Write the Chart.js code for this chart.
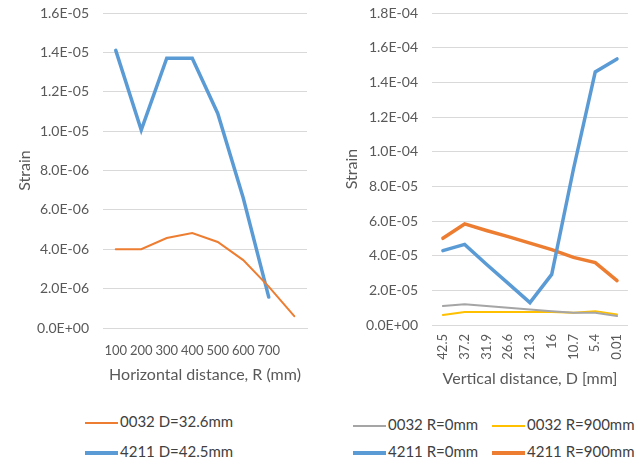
<!DOCTYPE html>
<html>
<head>
<meta charset="utf-8">
<script src="https://cdn.jsdelivr.net/npm/chart.js@4.4.0/dist/chart.umd.min.js"></script>
<style>
  body { margin: 0; background: #fff; font-family: Lato, sans-serif; }
  #wrap { position: relative; width: 642px; height: 463px; overflow: hidden; }
  .box { position: absolute; top: 0; }
  .legend { position: absolute; font-family: Lato, sans-serif; font-size: 15px; color: #404040; }
  .item { position: absolute; white-space: nowrap; line-height: 18px; }
  .item span { display: inline-block; width: 33px; vertical-align: middle; margin-right: 2px; }
</style>
</head>
<body>
<div id="wrap">
  <div class="box" style="left:0;width:320px;height:395px"><canvas id="leftChart" width="320" height="395"></canvas></div>
  <div class="box" style="left:320px;width:322px;height:395px"><canvas id="rightChart" width="322" height="395"></canvas></div>
  <div class="legend" id="leftLegend"></div>
  <div class="legend" id="rightLegend"></div>
</div>
<script>
// left chart: strain vs horizontal distance
const horizLabels = ['100', '200', '300', '400', '500', '600', '700', ''];
const s0032_D326 = [4.0e-6, 4.0e-6, 4.57e-6, 4.82e-6, 4.37e-6, 3.45e-6, 2.1e-6, 0.6e-6];
const s4211_D425 = [14.1e-6, 10.05e-6, 13.7e-6, 13.7e-6, 10.9e-6, 6.6e-6, 1.57e-6, null];

// right chart: strain vs vertical distance
const vertLabels = ['42.5', '37.2', '31.9', '26.6', '21.3', '16', '10.7', '5.4', '0.01'];
const s0032_R0 = [1.1e-5, 1.2e-5, 1.1e-5, 1.0e-5, 0.9e-5, 0.8e-5, 0.7e-5, 0.7e-5, 0.52e-5];
const s0032_R900 = [0.58e-5, 0.75e-5, 0.75e-5, 0.75e-5, 0.75e-5, 0.75e-5, 0.7e-5, 0.8e-5, 0.6e-5];
const s4211_R0 = [4.29e-5, 4.65e-5, 3.5e-5, 2.4e-5, 1.29e-5, 2.92e-5, 9.0e-5, 14.6e-5, 15.35e-5];
const s4211_R900 = [5.0e-5, 5.83e-5, 5.45e-5, 5.1e-5, 4.72e-5, 4.35e-5, 3.9e-5, 3.6e-5, 2.56e-5];

const gray = '#A5A5A5', yellow = '#FFC000', blue = '#5B9BD5', orange = '#ED7D31';
const textColor = '#595959';
const gridColor = '#D9D9D9';

// Excel style scientific labels, e.g. 1.6E-05
function sci(v) {
    if (Math.abs(v) < 1e-12) return '0.0E+00';
    const parts = v.toExponential(1).split('e');
    const e = parseInt(parts[1], 10);
    const sign = e < 0 ? '-' : '+';
    return parts[0] + 'E' + sign + String(Math.abs(e)).padStart(2, '0');
}

function baseOptions(xTitle, yMax, yStep, yWidth, xHeight, rotate, padRight, xTitlePad, yTitlePad) {
    return {
        responsive: false,
        animation: false,
        layout: { padding: { top: 13, right: padRight, left: 0, bottom: 0 } },
        plugins: { legend: { display: false }, tooltip: { enabled: false } },
        elements: { point: { radius: 0 }, line: { tension: 0, borderCapStyle: 'round' } },
        scales: {
            x: {
                offset: true,
                grid: { display: false, drawTicks: false },
                border: { display: true, color: gridColor },
                ticks: {
                    color: textColor, font: { family: 'Lato', size: 13 },
                    padding: rotate ? 9 : 15,
                    autoSkip: false,
                    minRotation: rotate ? 90 : 0, maxRotation: rotate ? 90 : 0
                },
                title: {
                    display: true, text: xTitle, color: textColor,
                    font: { family: 'Lato', size: 16 }, padding: { top: 0, bottom: xTitlePad }
                },
                afterFit: s => { s.height = xHeight; }
            },
            y: {
                min: 0, max: yMax,
                grid: { color: gridColor, drawTicks: false },
                border: { display: false },
                ticks: {
                    stepSize: yStep, color: textColor, font: { family: 'Lato', size: 14 },
                    padding: 14, callback: v => sci(v)
                },
                title: {
                    display: true, text: 'Strain', color: textColor,
                    font: { family: 'Lato', size: 16 }, padding: { top: yTitlePad, bottom: 0 }
                },
                afterFit: s => {
                    s.width = yWidth;
                    s.paddingTop = 0;
                    s.paddingBottom = 0;
                }
            }
        }
    };
}

const leftChart = new Chart(document.getElementById('leftChart'), {
    type: 'line',
    data: {
        labels: horizLabels,
        datasets: [
            { label: '0032 D=32.6mm', data: s0032_D326, borderColor: orange, borderWidth: 2 },
            { label: '4211 D=42.5mm', data: s4211_D425, borderColor: blue, borderWidth: 3.5 }
        ]
    },
    options: baseOptions('Horizontal distance, R (mm)', 1.6e-5, 2e-6, 103, 67, false, 13, 11, 15)
});

const rightChart = new Chart(document.getElementById('rightChart'), {
    type: 'line',
    data: {
        labels: vertLabels,
        datasets: [
            { label: '0032 R=0mm', data: s0032_R0, borderColor: gray, borderWidth: 2 },
            { label: '0032 R=900mm', data: s0032_R900, borderColor: yellow, borderWidth: 2 },
            { label: '4211 R=0mm', data: s4211_R0, borderColor: blue, borderWidth: 3.5 },
            { label: '4211 R=900mm', data: s4211_R900, borderColor: orange, borderWidth: 3.5 }
        ]
    },
    options: baseOptions('Vertical distance, D [mm]', 1.8e-4, 2e-5, 112, 70, true, 7, 7, 22)
});

// html legends laid out like the original
function buildLegend(chart, el, spots) {
    chart.data.datasets.forEach((ds, i) => {
        const it = document.createElement('div');
        it.className = 'item';
        it.style.left = spots[i][0] + 'px';
        it.style.top = spots[i][1] + 'px';
        const sw = document.createElement('span');
        sw.style.height = ds.borderWidth + 'px';
        sw.style.background = ds.borderColor;
        it.appendChild(sw);
        it.appendChild(document.createTextNode(ds.label));
        el.appendChild(it);
    });
}
buildLegend(leftChart, document.getElementById('leftLegend'), [[85, 412], [85, 442]]);
buildLegend(rightChart, document.getElementById('rightLegend'), [[353, 415], [492, 415], [353, 442], [492, 442]]);
</script>
</body>
</html>
